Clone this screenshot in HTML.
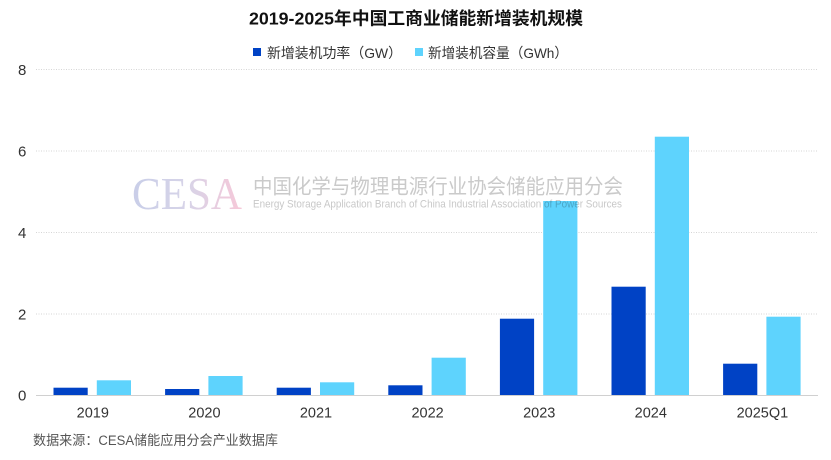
<!DOCTYPE html>
<html><head><meta charset="utf-8"><style>
html,body{margin:0;padding:0;background:#fff;}
svg{display:block;}
.s{font-family:"Liberation Sans","Noto Sans CJK SC",sans-serif;}
.serif{font-family:"Liberation Serif","DejaVu Serif",serif;}
</style></head><body>
<svg width="831" height="460" viewBox="0 0 831 460" xmlns="http://www.w3.org/2000/svg">
<defs>
<linearGradient id="wg" x1="0" x2="1" y1="0" y2="0">
<stop offset="0" stop-color="#c3c9e6"/>
<stop offset="0.5" stop-color="#d3cfe6"/>
<stop offset="1" stop-color="#f6c2d4"/>
</linearGradient>
</defs>
<rect width="831" height="460" fill="#fff"/>
<text class="s" x="416" y="24.5" text-anchor="middle" font-size="17.5" font-weight="bold" fill="#111" textLength="334" lengthAdjust="spacingAndGlyphs">2019-2025年中国工商业储能新增装机规模</text>
<rect x="253" y="48" width="8" height="8" fill="#0042c5"/>
<text class="s" x="267" y="58" font-size="14" fill="#333" textLength="135" lengthAdjust="spacingAndGlyphs">新增装机功率（GW）</text>
<rect x="415" y="48" width="8" height="8" fill="#5ed3fd"/>
<text class="s" x="428" y="58" font-size="14" fill="#333" textLength="140" lengthAdjust="spacingAndGlyphs">新增装机容量（GWh）</text>
<g stroke="#d6d6d6" stroke-width="1" stroke-dasharray="1,1.5">
<line x1="36" y1="69.5" x2="818" y2="69.5"/>
<line x1="36" y1="151" x2="818" y2="151"/>
<line x1="36" y1="232.5" x2="818" y2="232.5"/>
<line x1="36" y1="314" x2="818" y2="314"/>
</g>
<g class="s" font-size="15" fill="#333">
<text x="18" y="75">8</text>
<text x="18" y="156.5">6</text>
<text x="18" y="238">4</text>
<text x="18" y="319.5">2</text>
<text x="18" y="400.5">0</text>
</g>
<g fill="#0042c5">
<rect x="53.5" y="387.7" width="34.2" height="7.3"/>
<rect x="165.1" y="389" width="34.2" height="6"/>
<rect x="276.7" y="387.7" width="34.2" height="7.3"/>
<rect x="388.3" y="385.3" width="34.2" height="9.7"/>
<rect x="499.9" y="318.7" width="34.2" height="76.3"/>
<rect x="611.5" y="286.7" width="34.2" height="108.3"/>
<rect x="723.1" y="363.7" width="34.2" height="31.3"/>
</g>
<g fill="#5ed3fd">
<rect x="96.8" y="380.3" width="34.2" height="14.7"/>
<rect x="208.4" y="376" width="34.2" height="19"/>
<rect x="320" y="382.3" width="34.2" height="12.7"/>
<rect x="431.6" y="357.7" width="34.2" height="37.3"/>
<rect x="543.2" y="201" width="34.2" height="194"/>
<rect x="654.8" y="136.7" width="34.2" height="258.3"/>
<rect x="766.4" y="316.7" width="34.2" height="78.3"/>
</g>
<line x1="36" y1="395.5" x2="818" y2="395.5" stroke="#d0d0d0" stroke-width="1"/>
<g class="s" font-size="14.5" fill="#333" text-anchor="middle">
<text x="92.8" y="417.5">2019</text>
<text x="204.4" y="417.5">2020</text>
<text x="316" y="417.5">2021</text>
<text x="427.6" y="417.5">2022</text>
<text x="539.2" y="417.5">2023</text>
<text x="650.8" y="417.5">2024</text>
<text x="762.4" y="417.5">2025Q1</text>
</g>
<text class="s" x="33" y="445" font-size="13.5" fill="#555" textLength="245" lengthAdjust="spacingAndGlyphs">数据来源：CESA储能应用分会产业数据库</text>
<g opacity="0.9" style="mix-blend-mode:multiply">
<text class="serif" x="132" y="209" font-size="45" fill="url(#wg)" textLength="110" lengthAdjust="spacingAndGlyphs">CESA</text>
<text class="s" x="253" y="193.5" font-size="20.5" fill="#c4c4c4" textLength="370" lengthAdjust="spacingAndGlyphs">中国化学与物理电源行业协会储能应用分会</text>
<text class="s" x="253" y="207.5" font-size="11" fill="#c2c2c2" textLength="369" lengthAdjust="spacingAndGlyphs">Energy Storage Application Branch of China Industrial Association of Power Sources</text>
</g>
</svg>
</body></html>
